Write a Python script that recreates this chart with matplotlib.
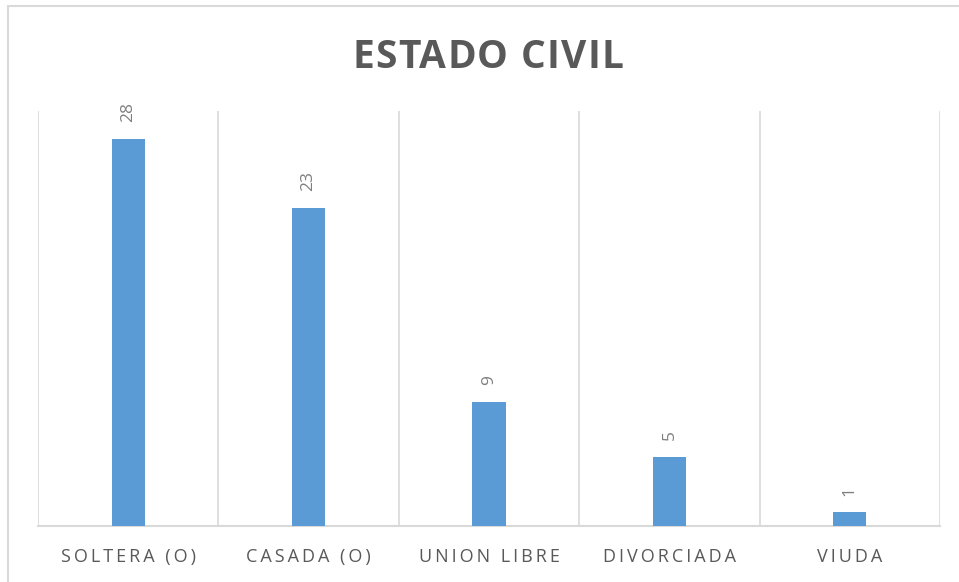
import numpy as np
import matplotlib
matplotlib.use('Agg')
import matplotlib.pyplot as plt
from matplotlib.patches import Rectangle

categories = ['SOLTERA (O)', 'CASADA (O)', 'UNION LIBRE', 'DIVORCIADA', 'VIUDA']
values = [28, 23, 9, 5, 1]
title = 'ESTADO CIVIL'

plt.rcParams['font.family'] = ['Open Sans', 'DejaVu Sans']

W, H = 959, 582
fig = plt.figure(figsize=(W / 100, H / 100), dpi=100)


def tracked_text(fig, s, xc, y_base, tracking, **kw):
    # draw a string char by char with extra letter spacing (pixels), centred on xc
    renderer = fig.canvas.get_renderer()

    def width(txt):
        t = fig.text(0, 0, txt, **kw)
        w = t.get_window_extent(renderer).width
        t.remove()
        return w

    lefts = []
    for i, ch in enumerate(s):
        lefts.append(width(s[:i + 1]) - width(ch) + i * tracking)
    total = lefts[-1] + width(s[-1])
    x0 = xc - total / 2
    for ch, lx in zip(s, lefts):
        if ch == ' ':
            continue
        fig.text((x0 + lx) / W, y_base, ch, ha='left', va='baseline', **kw)


# chart frame (only top and left edges are visible in the picture)
fig.patches.append(Rectangle((8 / W, -0.1), 1.2, (H - 6) / H + 0.1, transform=fig.transFigure,
                             fill=False, edgecolor='#d9d9d9', linewidth=1.5))

left, right = 38 / W, 940 / W
bottom, top = (H - 526) / H, (H - 111) / H
ax = fig.add_axes([left, bottom, right - left, top - bottom])

x = np.arange(len(categories))
bars = ax.bar(x, values, width=0.183, color='#5b9bd5', zorder=3)

ax.set_xlim(-0.5, len(categories) - 0.5)
ax.set_ylim(0, 30)

# vertical separators between categories
for b in np.arange(-0.5, len(categories), 1.0):
    ax.axvline(b, color='#d9d9d9', linewidth=1.2, zorder=1)

for s in ['top', 'left', 'right']:
    ax.spines[s].set_visible(False)
ax.spines['bottom'].set_color('#d9d9d9')
ax.spines['bottom'].set_linewidth(1.5)

ax.set_yticks([])
ax.set_xticks(x)
spaced = ['\u2009'.join(c) for c in categories]
ax.set_xticklabels(spaced, fontsize=13, color='#595959')
ax.tick_params(axis='x', length=0, pad=16)

for rect, v in zip(bars, values):
    ax.annotate(str(v), (rect.get_x() + rect.get_width() / 2, v),
                xytext=(0, 12), textcoords='offset points',
                rotation=90, ha='center', va='bottom',
                fontsize=12.5, color='#7f7f7f')

tracked_text(fig, title, 488, 1 - 68 / H, 1.3,
             fontsize=28, fontweight='bold', color='#595959')

fig.savefig('out.png', dpi=100)
